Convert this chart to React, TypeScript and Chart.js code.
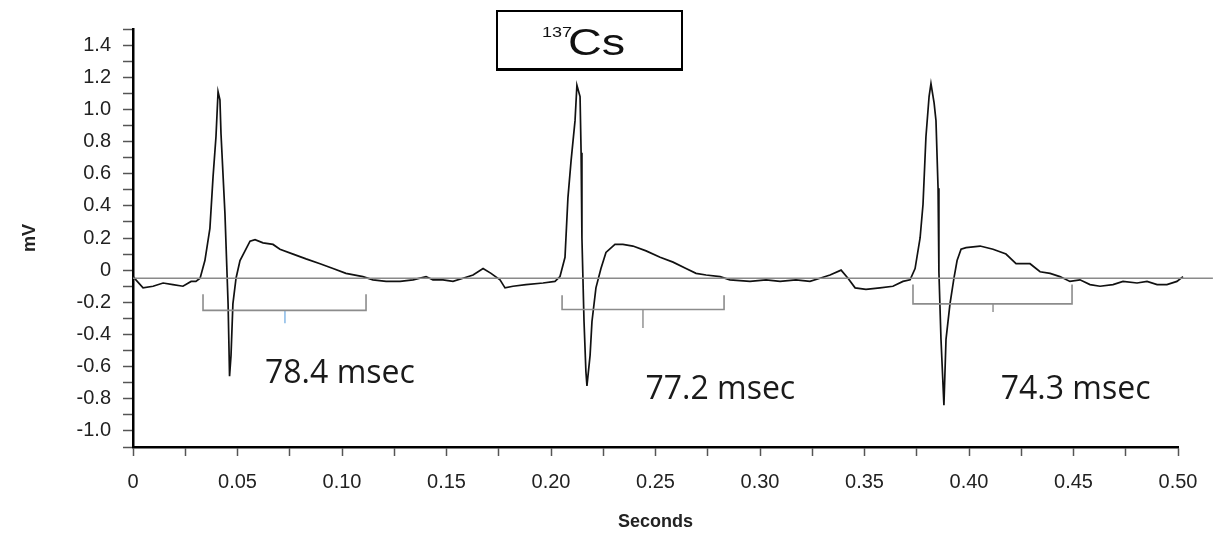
import React, { useEffect, useRef } from "react";
import { Chart, registerables } from "chart.js";

Chart.register(...registerables);

// ECG trace (seconds, mV)
const traceTime = [
  0, 0.0048, 0.0096, 0.0144, 0.0191, 0.0239, 0.0278, 0.0301, 0.0321, 0.0344,
  0.0368, 0.0383, 0.0397, 0.0407, 0.0416, 0.0421, 0.044, 0.0455, 0.0462, 0.0469,
  0.0478, 0.0493, 0.0512, 0.0536, 0.056, 0.0584, 0.0622, 0.067, 0.0703, 0.0766,
  0.0828, 0.0895, 0.0957, 0.1019, 0.11, 0.1148, 0.1211, 0.1278, 0.134, 0.1402,
  0.1435, 0.1483, 0.1531, 0.1579, 0.1627, 0.1675, 0.1713, 0.1756, 0.178, 0.1818,
  0.188, 0.1962, 0.2019, 0.2043, 0.2067, 0.2081, 0.2096, 0.2115, 0.2124, 0.2139,
  0.2144, 0.2148, 0.2158, 0.2167, 0.2172, 0.2187, 0.2196, 0.2215, 0.2239, 0.2263,
  0.2306, 0.2344, 0.2392, 0.2455, 0.2522, 0.2584, 0.2646, 0.2694, 0.2742, 0.2809,
  0.2856, 0.2952, 0.3029, 0.3096, 0.3172, 0.3239, 0.3287, 0.3335, 0.3388, 0.3421,
  0.3455, 0.3507, 0.3574, 0.3636, 0.3684, 0.3718, 0.3742, 0.3766, 0.378, 0.3794,
  0.3809, 0.3818, 0.3833, 0.3842, 0.3852, 0.3856, 0.3866, 0.388, 0.389, 0.3909,
  0.3928, 0.3943, 0.3962, 0.3986, 0.4053, 0.4115, 0.4177, 0.4225, 0.4292, 0.434,
  0.4388, 0.4435, 0.4483, 0.4531, 0.4579, 0.4627, 0.4689, 0.4737, 0.4804, 0.4852,
  0.49, 0.4947, 0.4995, 0.5024, 0.5057,
];
const traceMV = [
  -0.04, -0.11, -0.1, -0.08, -0.09, -0.1, -0.07, -0.07, -0.05, 0.06,
  0.26, 0.58, 0.83, 1.11, 1.06, 0.85, 0.35, -0.21, -0.66, -0.53,
  -0.21, -0.05, 0.06, 0.12, 0.18, 0.19, 0.17, 0.16, 0.13, 0.1,
  0.07, 0.04, 0.01, -0.02, -0.04, -0.06, -0.07, -0.07, -0.06, -0.04,
  -0.06, -0.06, -0.07, -0.05, -0.03, 0.01, -0.02, -0.06, -0.11, -0.1,
  -0.09, -0.08, -0.07, -0.04, 0.08, 0.45, 0.68, 0.93, 1.15, 1.08,
  0.73, 0.2, -0.32, -0.63, -0.72, -0.53, -0.32, -0.11, 0.01, 0.11,
  0.16, 0.16, 0.15, 0.12, 0.08, 0.05, 0.01, -0.02, -0.03, -0.04,
  -0.06, -0.07, -0.06, -0.07, -0.06, -0.07, -0.05, -0.03, 0.0, -0.05,
  -0.11, -0.12, -0.11, -0.1, -0.07, -0.06, 0.01, 0.2, 0.41, 0.83,
  1.08, 1.16, 1.04, 0.93, 0.51, -0.01, -0.43, -0.84, -0.43, -0.21,
  -0.05, 0.06, 0.13, 0.14, 0.15, 0.13, 0.1, 0.04, 0.04, -0.01,
  -0.02, -0.04, -0.07, -0.06, -0.09, -0.1, -0.09, -0.07, -0.08, -0.07,
  -0.09, -0.09, -0.07, -0.04, -0.01,
];

// Reference baseline
const baselineMV = -0.05;
const baselineStart = 0;
const baselineEnd = 0.5167;

// Interval brackets
const bracketStart = [0.0335, 0.2053, 0.3732];
const bracketEnd = [0.1115, 0.2828, 0.4493];
const bracketMid = [0.0727, 0.244, 0.4115];
const bracketTop = [-0.15, -0.156, -0.09];
const bracketBar = [-0.25, -0.245, -0.21];
const bracketTick = [-0.33, -0.36, -0.26];
const bracketMidColor = ["#8fbde8", "#9a9a9a", "#9a9a9a"];

// Interval labels
const intervalText = ["78.4 msec", "77.2 msec", "74.3 msec"];
const intervalX = [0.099, 0.281, 0.451];
const intervalY = [-0.644, -0.744, -0.744];

// Axis config values
const xMin = 0;
const xMax = 0.5;
const xStep = 0.025;
const yMin = -1.1;
const yMax = 1.5;
const yStep = 0.1;

const extrasPlugin = {
  id: "extras",
  afterDatasetsDraw(chart: any) {
    const { ctx, scales } = chart;
    ctx.save();
    ctx.fillStyle = "#1a1a1a";
    ctx.font = '32px "Open Sans", sans-serif';
    ctx.textAlign = "center";
    ctx.textBaseline = "middle";
    for (let i = 0; i < intervalText.length; i++) {
      const px = scales.x.getPixelForValue(intervalX[i]);
      const py = scales.y.getPixelForValue(intervalY[i]);
      ctx.fillText(intervalText[i], px, py);
    }
    ctx.restore();
  },
  afterDraw(chart: any) {
    const { ctx } = chart;
    ctx.save();
    // title box
    const bx = 497, by = 11, bw = 185, bh = 58;
    ctx.fillStyle = "#ffffff";
    ctx.fillRect(bx, by, bw, bh);
    ctx.strokeStyle = "#000";
    ctx.lineWidth = 2;
    ctx.strokeRect(bx, by, bw, bh);
    ctx.fillStyle = "#000";
    ctx.fillRect(bx - 1, by + bh - 1, bw + 2, 3);
    ctx.fillStyle = "#111";
    ctx.textBaseline = "alphabetic";
    ctx.textAlign = "left";
    ctx.save();
    ctx.translate(542, 37);
    ctx.scale(1.2, 1);
    ctx.font = '15px "Liberation Sans", Arial, sans-serif';
    ctx.fillText("137", 0, 0);
    ctx.restore();
    ctx.save();
    ctx.translate(568, 55);
    ctx.scale(1.3, 1);
    ctx.font = '36px "Liberation Sans", Arial, sans-serif';
    ctx.fillText("Cs", 0, 0);
    ctx.restore();
    ctx.restore();
  },
};

export default function App() {
  const canvasRef = useRef<HTMLCanvasElement | null>(null);

  useEffect(() => {
    const canvas = canvasRef.current;
    if (!canvas) return;

    const trace = traceTime.map((t, i) => ({ x: t, y: traceMV[i] }));
    const baseline = [
      { x: baselineStart, y: baselineMV },
      { x: baselineEnd, y: baselineMV },
    ];
    const bracketSets: any[] = [];
    for (let i = 0; i < bracketStart.length; i++) {
      bracketSets.push({
        data: [
          { x: bracketStart[i], y: bracketTop[i] },
          { x: bracketStart[i], y: bracketBar[i] },
          { x: bracketEnd[i], y: bracketBar[i] },
          { x: bracketEnd[i], y: bracketTop[i] },
        ],
        borderColor: "#8c8c8c",
        borderWidth: 1.6,
        pointRadius: 0,
        tension: 0,
        clip: false,
      });
      bracketSets.push({
        data: [
          { x: bracketMid[i], y: bracketBar[i] },
          { x: bracketMid[i], y: bracketTick[i] },
        ],
        borderColor: bracketMidColor[i],
        borderWidth: 1.6,
        pointRadius: 0,
        tension: 0,
        clip: false,
      });
    }

    const tickFont = { family: '"Liberation Sans", Arial, sans-serif', size: 20 };

    const chart = new Chart(canvas, {
      type: "line",
      data: {
        datasets: [
          {
            data: baseline,
            borderColor: "#8a8a8a",
            borderWidth: 1.6,
            pointRadius: 0,
            clip: false,
          },
          ...bracketSets,
          {
            data: trace,
            borderColor: "#111111",
            borderWidth: 1.7,
            pointRadius: 0,
            tension: 0,
            clip: false,
          },
        ],
      },
      options: {
        animation: false,
        responsive: true,
        maintainAspectRatio: false,
        parsing: true,
        layout: { padding: { left: 0, right: 35, top: 29, bottom: 0 } },
        plugins: {
          legend: { display: false },
          tooltip: { enabled: false },
        },
        scales: {
          x: {
            type: "linear",
            min: xMin,
            max: xMax,
            afterFit(scale: any) {
              scale.height = 95;
            },
            ticks: {
              stepSize: xStep,
              autoSkip: false,
              maxRotation: 0,
              minRotation: 0,
              padding: 14,
              color: "#222",
              font: tickFont,
              callback: (v: any) => {
                const k = Math.round(Number(v) * 1000);
                if (k % 50 !== 0) return "";
                if (k === 0) return "0";
                return (k / 1000).toFixed(2);
              },
            },
            grid: {
              drawOnChartArea: false,
              drawTicks: true,
              tickLength: 9,
              tickColor: "#555",
              tickWidth: 1.5,
            },
            border: { display: true, color: "#000", width: 2.5 },
            title: {
              display: true,
              text: "Seconds",
              color: "#222",
              font: { family: '"Liberation Sans", Arial, sans-serif', size: 18, weight: "bold" },
              padding: { top: 0, bottom: 9 },
            },
          },
          y: {
            type: "linear",
            min: yMin,
            max: yMax,
            afterFit(scale: any) {
              scale.width = 133;
            },
            ticks: {
              stepSize: yStep,
              autoSkip: false,
              padding: 12,
              color: "#222",
              font: tickFont,
              callback: (v: any) => {
                const k = Math.round(Number(v) * 10);
                if (k % 2 !== 0) return "";
                if (k === 0) return "0";
                return (k / 10).toFixed(1);
              },
            },
            grid: {
              drawOnChartArea: false,
              drawTicks: true,
              tickLength: 10,
              tickColor: "#555",
              tickWidth: 1.5,
            },
            border: { display: true, color: "#000", width: 2.5 },
            title: {
              display: true,
              text: "mV",
              color: "#222",
              font: { family: '"Liberation Sans", Arial, sans-serif', size: 18, weight: "bold" },
              padding: { top: 19, bottom: 0 },
            },
          },
        },
      },
      plugins: [extrasPlugin],
    });

    return () => chart.destroy();
  }, []);

  return (
    <div
      style={{
        position: "fixed",
        left: 0,
        top: 0,
        width: "1213px",
        height: "542px",
        background: "#fff",
      }}
    >
      <canvas ref={canvasRef} />
    </div>
  );
}
